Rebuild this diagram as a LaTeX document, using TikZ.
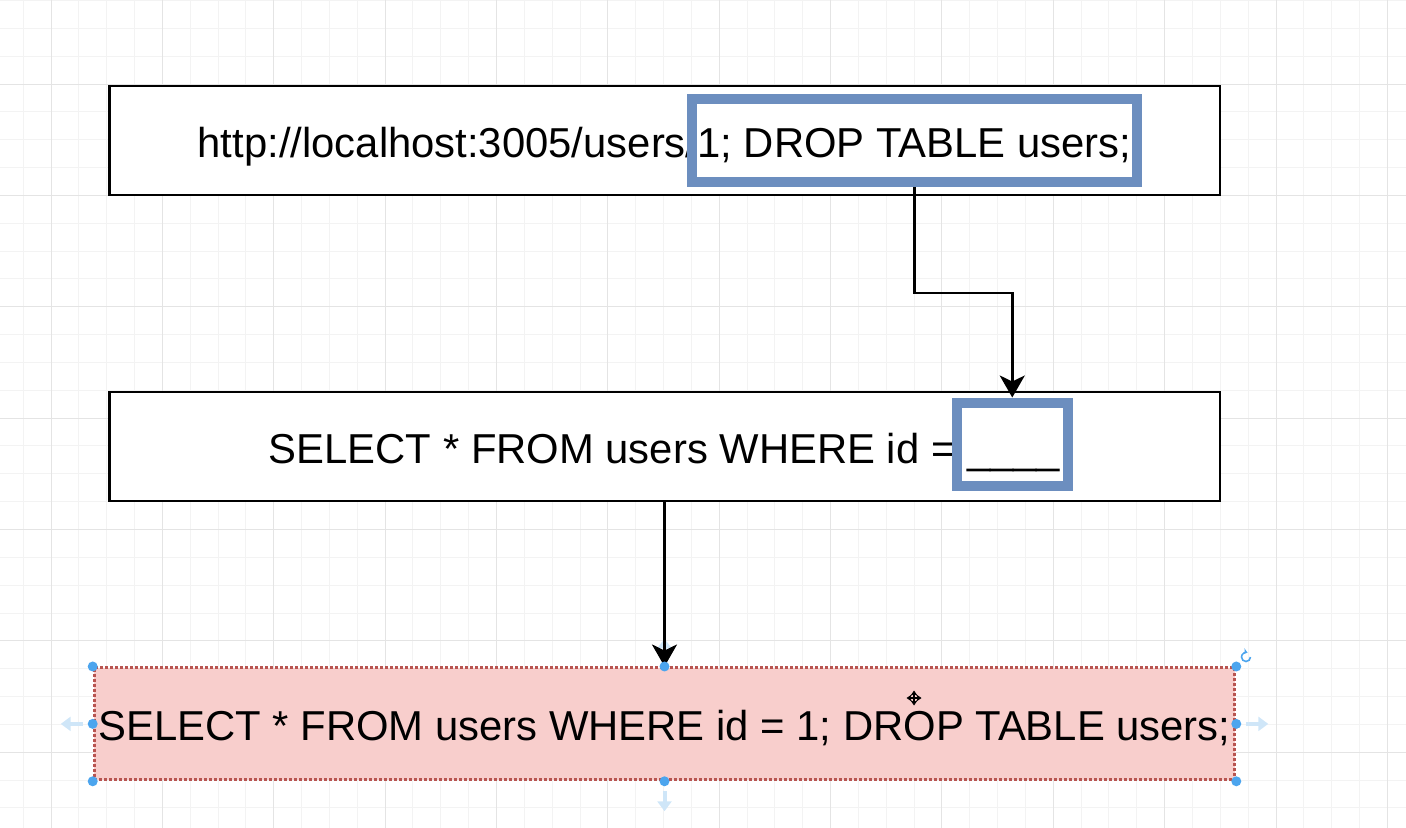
\documentclass[tikz,border=0pt]{standalone}
\usepackage{fontspec}
\setmainfont{Liberation Sans}
\usetikzlibrary{positioning, arrows.meta}
\definecolor{azulmarco}{HTML}{6C8EBF}
\definecolor{rosa}{HTML}{F8CECC}
\definecolor{rojizo}{HTML}{B85450}
\definecolor{azulasa}{HTML}{4CA5EE}
\definecolor{azulclaro}{HTML}{CFE6F8}
\definecolor{rejilla}{HTML}{F3F3F3}
\definecolor{rejillamayor}{HTML}{E4E4E4}
\tikzstyle{caja}=[draw, rectangle, line width=1.6pt, inner sep=0pt,
minimum width=22.22cm, minimum height=2.18cm,
font=\fontsize{23.8}{28}\selectfont, text height=0.87cm, text depth=0.2cm]
\tikzstyle{resaltado}=[draw=azulmarco, rectangle, line width=0.2cm, inner sep=0pt]
\tikzstyle{asa}=[circle, fill=azulasa, inner sep=0pt, minimum size=0.2cm]
\tikzstyle{guia}=[azulclaro, line width=0.08cm, -{Triangle[length=0.2cm, width=0.28cm]}]

\begin{document}
\begin{tikzpicture}[x=0.02cm, y=-0.02cm, >={Stealth[length=0.44cm, width=0.5cm, inset=0.12cm]}]
		\useasboundingbox (0,0) rectangle (1406,828);
		% rejilla de fondo
		\foreach \i in {0,...,49}
			\draw[rejilla, line width=0.5pt] ({23.16+27.84*\i},0) -- ++(0,828);
		\foreach \i in {0,...,29}
			\draw[rejilla, line width=0.5pt] (0,{0.48+27.84*\i}) -- ++(1406,0);
		\foreach \i in {0,...,12}
			\draw[rejillamayor, line width=0.5pt] ({51+111.36*\i},0) -- ++(0,828);
		\foreach \i in {0,...,6}
			\draw[rejillamayor, line width=0.5pt] (0,{84+111.36*\i}) -- ++(1406,0);
		% cajas
		\node[caja, fill=white] (url) at (664.5,140.5) {http://localhost:3005/users/1; DROP TABLE users;};
		\node[caja, fill=white, below of=url, node distance=6.12cm] (consulta) {SELECT * FROM users WHERE id = \_\_\_\_};
		\node[caja, below of=consulta, node distance=5.55cm, fill=rosa, draw=rojizo,
			dash pattern=on 0.06cm off 0.04cm, minimum width=22.82cm, minimum height=2.24cm]
			(resultado) {SELECT * FROM users WHERE id = 1; DROP TABLE users;};
		\node[resaltado, minimum width=8.91cm, minimum height=1.67cm] (trozo) at (914.75,140.75) {};
		\node[resaltado, minimum width=2.23cm, minimum height=1.68cm] (hueco) at (1012.25,444.5) {};
		% flechas de seleccion
		\draw[guia] ([yshift=0.2cm]resultado.north) -- ++(0,-18);
		\draw[guia] ([xshift=-0.2cm]resultado.west) -- ++(-22,0);
		\draw[guia] ([xshift=0.2cm]resultado.east) -- ++(22,0);
		\draw[guia] ([yshift=-0.2cm]resultado.south) -- ++(0,20);
		% conectores
		\coordinate (codo) at (hueco.north |- 0,293);
		\draw[line width=1.6pt, ->] (trozo.south) |- (codo) -- (hueco.north);
		\draw[line width=1.6pt, ->] (consulta.south) -- (resultado.north);
		% asas
		\foreach \a/\n in {north west/1, north/2, north east/3, east/4, south east/5, south/6, south west/7, west/8}
			\node[asa] (asa\n) at (resultado.\a) {};
		\coordinate (giro) at (1246,657);
		\draw[azulasa, line width=0.9pt, -{Stealth[length=2.5pt, width=3.5pt]}] ([xshift=0.09cm]giro) arc[start angle=0, end angle=-290, radius=0.09cm];
		\coordinate (cursor) at (914,698);
		\draw[line width=0.7pt, {Stealth[length=3pt, width=4pt]}-{Stealth[length=3pt, width=4pt]}] ([xshift=-0.15cm]cursor) -- ([xshift=0.15cm]cursor);
		\draw[line width=0.7pt, {Stealth[length=3pt, width=4pt]}-{Stealth[length=3pt, width=4pt]}] ([yshift=-0.15cm]cursor) -- ([yshift=0.15cm]cursor);
	\end{tikzpicture}
\end{document}
